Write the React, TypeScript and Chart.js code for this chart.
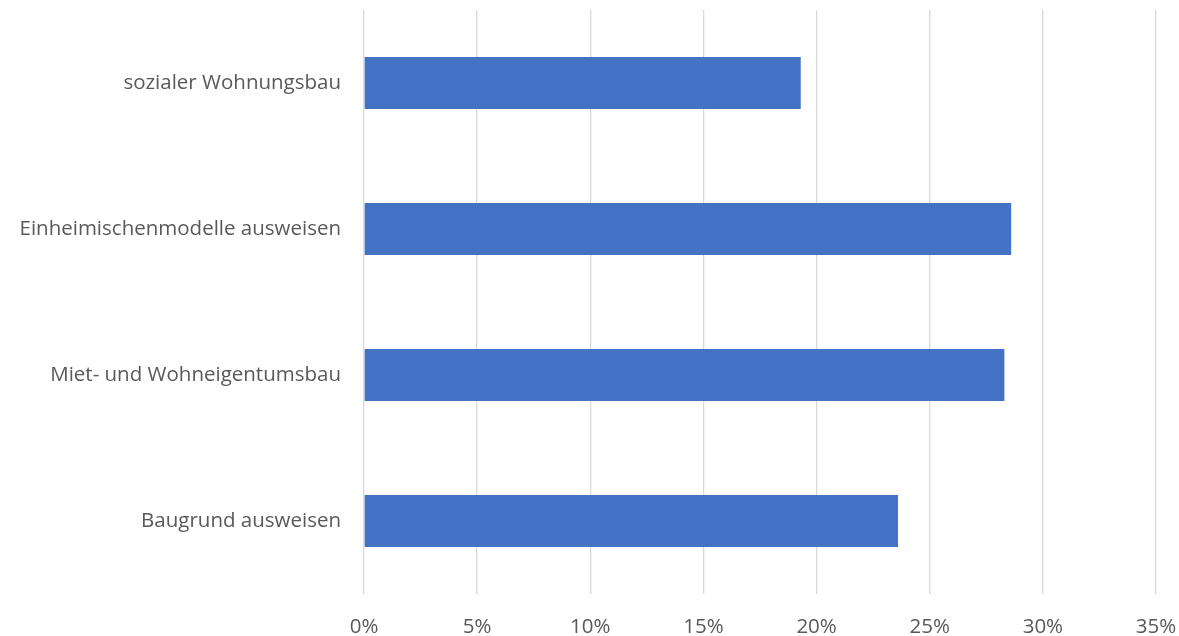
import React, { useEffect, useRef } from "react";
import { Chart, registerables } from "chart.js";

Chart.register(...registerables);

const categories = [
  "sozialer Wohnungsbau",
  "Einheimischenmodelle ausweisen",
  "Miet- und Wohneigentumsbau",
  "Baugrund ausweisen",
];
const values = [19.3, 28.6, 28.3, 23.6];
const xTicks = [0, 5, 10, 15, 20, 25, 30, 35];

export default function App() {
  const ref = useRef<HTMLCanvasElement | null>(null);
  useEffect(() => {
    if (!ref.current) return;
    const chart = new Chart(ref.current, {
      type: "bar",
      data: {
        labels: categories,
        datasets: [
          {
            data: values,
            backgroundColor: "#4472C4",
            borderWidth: 0,
            barPercentage: 0.356,
            categoryPercentage: 1,
          },
        ],
      },
      options: {
        indexAxis: "y",
        animation: false,
        responsive: false,
        devicePixelRatio: 1,
        layout: { padding: { top: 10, right: 23, left: 0, bottom: 0 } },
        plugins: { legend: { display: false }, tooltip: { enabled: false } },
        scales: {
          x: {
            min: 0,
            max: 35,
            afterBuildTicks: (s: any) => {
              s.ticks = xTicks.map((v) => ({ value: v }));
            },
            afterFit: (s: any) => {
              s.height = 42;
              s.paddingLeft = 0;
              s.paddingRight = 0;
            },
            ticks: {
              callback: (v: any) => v + "%",
              color: "#595959",
              font: { family: "'Open Sans', sans-serif", size: 20.5 },
              padding: 21,
              maxRotation: 0,
            },
            grid: { color: "#d9d9d9", lineWidth: 1.3, drawTicks: false },
            border: { display: false },
          },
          y: {
            afterFit: (s: any) => {
              s.width = 364;
              s.paddingTop = 0;
              s.paddingBottom = 0;
            },
            ticks: {
              color: "#595959",
              font: { family: "'Open Sans', sans-serif", size: 20.5 },
              padding: 23,
            },
            grid: { display: false, drawTicks: false },
            border: { display: false },
          },
        },
      },
    });
    return () => chart.destroy();
  }, []);
  return (
    <canvas
      ref={ref}
      width={1179}
      height={636}
      style={{ position: "absolute", left: 0, top: 0, width: 1179, height: 636 }}
    />
  );
}
